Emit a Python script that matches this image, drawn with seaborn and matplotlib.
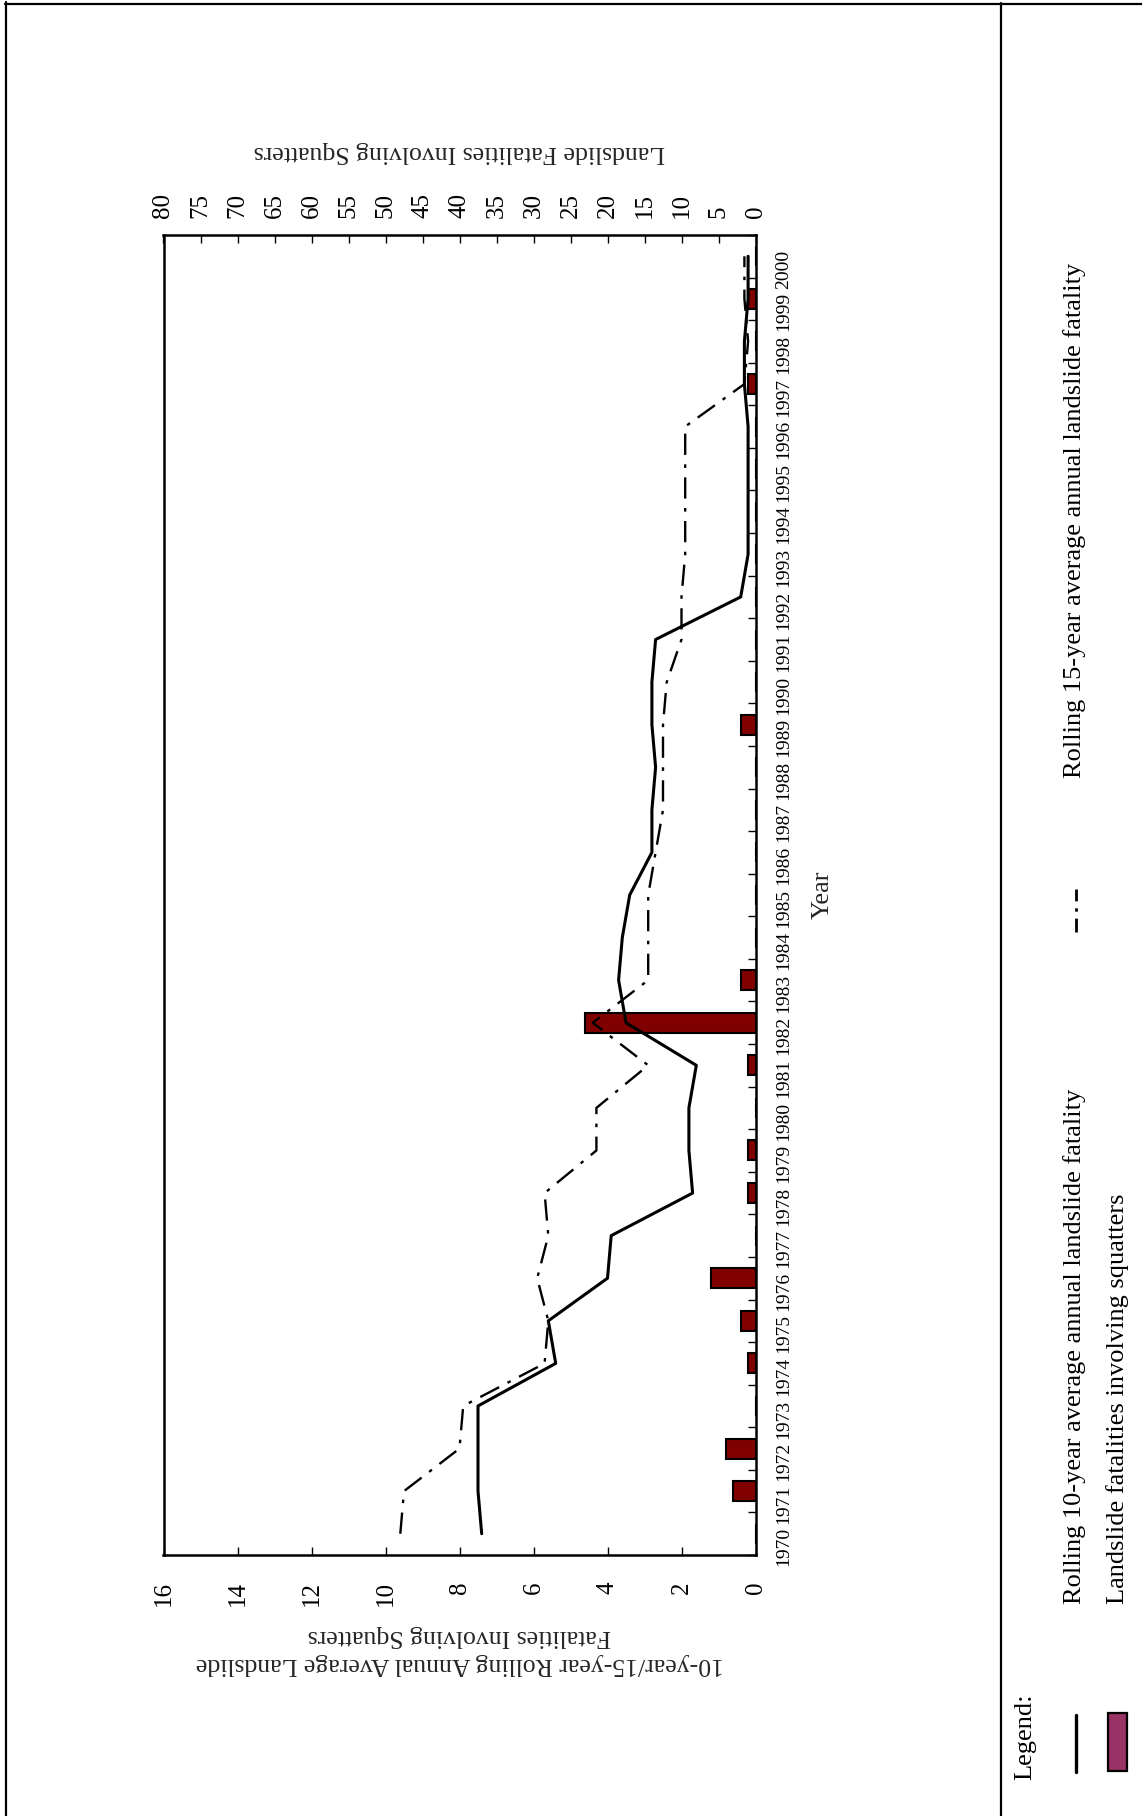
import numpy as np
import pandas as pd
import matplotlib
matplotlib.use("Agg")
import matplotlib.pyplot as plt
from matplotlib.lines import Line2D
from matplotlib.patches import Rectangle
import seaborn as sns

# ---- data -------------------------------------------------------------
years = list(range(1970, 2001))
squatter_deaths = [0, 3, 4, 0, 1, 2, 6, 0, 1, 1, 0, 1, 23, 2, 0, 0,
                   0, 0, 0, 2, 0, 0, 0, 0, 0, 0, 0, 1, 0, 1, 0]
rolling_10yr = [7.4, 7.5, 7.5, 7.5, 5.4, 5.6, 4.0, 3.9, 1.7, 1.8, 1.8,
                1.6, 3.5, 3.7, 3.6, 3.4, 2.8, 2.8, 2.7, 2.8, 2.8, 2.7,
                0.4, 0.2, 0.2, 0.2, 0.2, 0.3, 0.3, 0.2, 0.2]
rolling_15yr = [9.6, 9.5, 8.0, 7.9, 5.7, 5.6, 5.9, 5.6, 5.7, 4.3, 4.3,
                2.9, 4.4, 2.9, 2.9, 2.9, 2.7, 2.5, 2.5, 2.5, 2.4, 2.0,
                2.0, 1.9, 1.9, 1.9, 1.9, 0.3, 0.2, 0.3, 0.3]
avg_ticks = list(range(0, 17, 2))
count_ticks = list(range(0, 81, 5))

avg_title = "10-year/15-year Rolling Annual Average Landslide\nFatalities Involving Squatters"
count_title = "Landslide Fatalities Involving Squatters"
year_title = "Year"
legend_heading = "Legend:"
legend_10yr = "Rolling 10-year average annual landslide fatality"
legend_15yr = "Rolling 15-year average annual landslide fatality"
legend_bars = "Landslide fatalities involving squatters"

# ---- style ------------------------------------------------------------
sns.set_style("white")
plt.rcParams["font.family"] = ["Liberation Serif", "DejaVu Serif"]
plt.rcParams["axes.edgecolor"] = "black"

W, H = 1142, 1816
fig = plt.figure(figsize=(W / 100, H / 100), dpi=100)
fig.patch.set_facecolor("white")


def fx(px):
    return px / W


def fy(py):
    return 1 - py / H


BAR_RED = "#800000"
DASHDOT = (0, (9, 4, 1.5, 4))

# ---- axes: bars on the base axes, rolling averages on a twin ------------
ax = fig.add_axes([fx(163.5), fy(1555), fx(755.5) - fx(163.5), fy(235) - fy(1555)])
ax2 = ax.twiny()

# annual fatalities (scale 0-80, top axis)
bars = pd.DataFrame({"Year": years, "Fatalities": squatter_deaths})
sns.barplot(data=bars, x="Fatalities", y="Year", orient="h", native_scale=True,
            width=0.47, color=BAR_RED, saturation=1, edgecolor="black",
            linewidth=1.5, ax=ax)
ax.set_xlim(80, 0)
ax.set_ylim(1969.5, 2000.5)

ax.xaxis.tick_top()
ax.xaxis.set_label_position("top")
ax.set_xticks(count_ticks)
ax.set_xticklabels([str(v) for v in count_ticks])
ax.tick_params(axis="x", which="major", direction="in", length=6, width=1,
               labelsize=18, labelrotation=90, pad=12, top=True, bottom=False,
               labeltop=True, labelbottom=False, colors="black")
ax.set_xlabel(count_title, rotation=180, fontsize=18.5, va="center", ha="center")
ax.xaxis.set_label_coords(0.5, 1.063)

ax.yaxis.tick_right()
ax.yaxis.set_label_position("right")
ax.set_yticks(years)
ax.set_yticklabels([str(y) for y in years])
ax.set_yticks(np.arange(1969.5, 2001.0, 1.0), minor=True)
ax.tick_params(axis="y", which="major", length=0, labelsize=14,
               labelrotation=90, pad=14, right=True, left=False, colors="black")
ax.tick_params(axis="y", which="minor", direction="in", length=6, width=1,
               right=True, left=False, colors="black")
ax.set_ylabel(year_title, rotation=90, fontsize=19, va="center", ha="center")
ax.yaxis.set_label_coords(1.114, 0.5)
for side in ax.spines.values():
    side.set_visible(True)
    side.set_linewidth(1.8)
    side.set_color("black")

# rolling averages (scale 0-16, bottom axis)
rolling = pd.DataFrame({"Year": years, "10yr": rolling_10yr, "15yr": rolling_15yr})
sns.lineplot(data=rolling, x="10yr", y="Year", orient="y", color="black",
             linewidth=2.2, ax=ax2)
sns.lineplot(data=rolling, x="15yr", y="Year", orient="y", color="black",
             linewidth=1.7, linestyle=DASHDOT, ax=ax2)
ax2.set_xlim(16, 0)
ax2.set_ylim(1969.5, 2000.5)
ax2.xaxis.tick_bottom()
ax2.xaxis.set_label_position("bottom")
ax2.set_xticks(avg_ticks)
ax2.set_xticklabels([str(v) for v in avg_ticks])
ax2.tick_params(axis="x", which="major", direction="in", length=6, width=1,
                labelsize=18, labelrotation=90, pad=19, top=False, bottom=True,
                labeltop=False, labelbottom=True, colors="black")
ax2.set_xlabel(avg_title, rotation=180, fontsize=18.5, va="center", ha="center",
               linespacing=1.35, multialignment="center")
ax2.xaxis.set_label_coords(0.5, -0.072)
for side in ax2.spines.values():
    side.set_visible(False)

# ---- page frame ---------------------------------------------------------
frame_kw = dict(color="black", linewidth=1.6, transform=fig.transFigure)
fig.add_artist(Line2D([fx(5.5), fx(5.5)], [fy(2), 0], **frame_kw))
fig.add_artist(Line2D([fx(4.5), 1], [fy(3.5), fy(3.5)], **frame_kw))
fig.add_artist(Line2D([fx(1001), fx(1001)], [fy(2.5), 0], **frame_kw))

# ---- legend panel -------------------------------------------------------
txt_kw = dict(rotation=90, rotation_mode="anchor", ha="left", va="center",
              fontsize=19, color="black")
fig.text(fx(1025), fy(1780), legend_heading, **txt_kw)
fig.add_artist(Line2D([fx(1076), fx(1076)], [fy(1772), fy(1715)],
                      color="black", linewidth=2.4, transform=fig.transFigure))
fig.add_artist(Rectangle((fx(1108), fy(1771)), fx(1127) - fx(1108),
                         fy(1713) - fy(1771), facecolor="#993366",
                         edgecolor="black", linewidth=1.6,
                         transform=fig.transFigure))
fig.text(fx(1075), fy(1604), legend_10yr, **txt_kw)
fig.text(fx(1118), fy(1604), legend_bars, **txt_kw)
fig.add_artist(Line2D([fx(1076), fx(1076)], [fy(932), fy(889)],
                      color="black", linewidth=2.0, linestyle=(0, (5, 2.5, 1.2, 2.5)),
                      transform=fig.transFigure))
fig.text(fx(1075), fy(778), legend_15yr, **txt_kw)

fig.savefig("out.png", dpi=100, facecolor="white")
